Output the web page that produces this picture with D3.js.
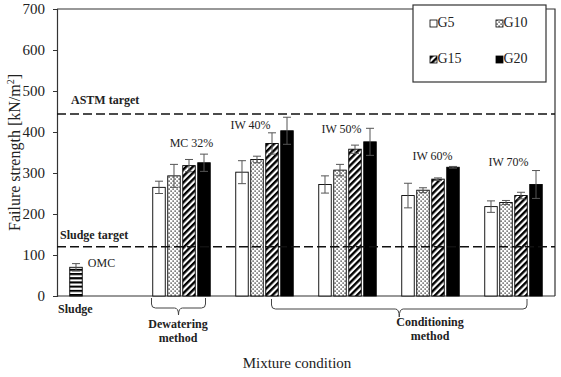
<!DOCTYPE html>
<html>
<head>
<meta charset="utf-8">
<script src="https://cdn.jsdelivr.net/npm/d3@7"></script>
<style>
  body { margin: 0; background: #fff; }
  text { font-family: "Liberation Serif", "Times New Roman", serif; fill: #222; }
</style>
</head>
<body>
<div id="chart"></div>
<script>
// categories along the x axis (first one holds only the raw sludge bar)
const categories = ['Sludge', 'MC 32%', 'IW 40%', 'IW 50%', 'IW 60%', 'IW 70%'];
const series = ['G5', 'G10', 'G15', 'G20'];

// failure strength [kN/m2]
const g5 = [70, 265, 302, 272, 245, 218];
const g10 = [null, 293, 333, 307, 258, 228];
const g15 = [null, 318, 372, 358, 285, 245];
const g20 = [null, 325, 403, 376, 314, 272];

// +/- error
const g5Err = [9, 15, 28, 21, 30, 14];
const g10Err = [null, 28, 8, 14, 6, 5];
const g15Err = [null, 15, 26, 10, 3, 8];
const g20Err = [null, 21, 33, 33, 2, 34];

const groupLabels = ['OMC', 'MC 32%', 'IW 40%', 'IW 50%', 'IW 60%', 'IW 70%'];
const yTicks = [0, 100, 200, 300, 400, 500, 600, 700];

const astmTarget = 444;
const sludgeTarget = 120;

// label placement (x offset from category centre, y in data units)
const labelDx = [3, 10, -14, -6, 2, -5];
const labelY = [71, 363, 407, 398, 332, 318];

const values = [g5, g10, g15, g20];
const errors = [g5Err, g10Err, g15Err, g20Err];

const width = 561, height = 377;
const margin = { top: 9, right: 6, bottom: 81, left: 57 };

const svg = d3.select('#chart')
  .append('svg')
  .attr('width', width)
  .attr('height', height);

// patterns
const defs = svg.append('defs');

const dots = defs.append('pattern')
  .attr('id', 'dots')
  .attr('patternUnits', 'userSpaceOnUse')
  .attr('width', 4).attr('height', 4);
dots.append('rect').attr('width', 4).attr('height', 4).attr('fill', '#fff');
dots.append('rect').attr('x', 0.5).attr('y', 0.5).attr('width', 1.2).attr('height', 1.2).attr('fill', '#000');
dots.append('rect').attr('x', 2.5).attr('y', 2.5).attr('width', 1.2).attr('height', 1.2).attr('fill', '#000');

const diag = defs.append('pattern')
  .attr('id', 'diag')
  .attr('patternUnits', 'userSpaceOnUse')
  .attr('width', 4.6).attr('height', 4.6)
  .attr('patternTransform', 'rotate(45)');
diag.append('rect').attr('width', 4.6).attr('height', 4.6).attr('fill', '#fff');
diag.append('rect').attr('width', 2.4).attr('height', 4.6).attr('fill', '#000');

const hstripe = defs.append('pattern')
  .attr('id', 'hstripe')
  .attr('patternUnits', 'userSpaceOnUse')
  .attr('width', 4).attr('height', 4.2);
hstripe.append('rect').attr('width', 4).attr('height', 4.2).attr('fill', '#fff');
hstripe.append('rect').attr('width', 4).attr('height', 2.1).attr('fill', '#000');

const fills = { G5: '#fff', G10: 'url(#dots)', G15: 'url(#diag)', G20: '#000' };

const x0 = d3.scaleBand()
  .domain(categories)
  .range([margin.left, width - margin.right])
  .padding(0);

const bw = x0.bandwidth();
const x1 = d3.scaleBand()
  .domain(series)
  .range([bw / 2 - 28.75, bw / 2 + 28.75])
  .paddingInner(0.167)
  .paddingOuter(0);

const y = d3.scaleLinear()
  .domain([0, 700])
  .range([height - margin.bottom, margin.top]);

// frame (top + right)
svg.append('path')
  .attr('d', `M${margin.left},${margin.top}H${width - margin.right}V${height - margin.bottom}`)
  .attr('fill', 'none')
  .attr('stroke', '#333')
  .attr('stroke-width', 1.2);

// y axis
const yAxis = svg.append('g')
  .attr('transform', `translate(${margin.left},0)`)
  .call(d3.axisLeft(y).tickValues(yTicks).tickSize(4).tickPadding(8));
yAxis.attr('font-family', null).attr('font-size', null);
yAxis.select('.domain').attr('stroke', '#333').attr('stroke-width', 1.2);
yAxis.selectAll('.tick line').attr('stroke', '#333');
yAxis.selectAll('.tick text')
  .style('font-family', '"Liberation Serif", "Times New Roman", serif')
  .style('font-size', '15px')
  .attr('fill', '#222');

// x axis line
svg.append('line')
  .attr('x1', margin.left).attr('x2', width - margin.right)
  .attr('y1', y(0)).attr('y2', y(0))
  .attr('stroke', '#333').attr('stroke-width', 1.2);

// bars
const rows = [];
categories.forEach((c, i) => {
  series.forEach((s, j) => {
    if (values[j][i] != null) {
      rows.push({ cat: c, ser: s, i: i, v: values[j][i], e: errors[j][i] });
    }
  });
});

svg.append('g').selectAll('rect')
  .data(rows)
  .enter()
  .append('rect')
  .attr('x', d => x0(d.cat) + x1(d.ser))
  .attr('y', d => y(d.v))
  .attr('width', x1.bandwidth())
  .attr('height', d => y(0) - y(d.v))
  .attr('fill', d => d.i === 0 ? 'url(#hstripe)' : fills[d.ser])
  .attr('stroke', '#000')
  .attr('stroke-width', 0.9);

// error bars
const eb = svg.append('g').attr('stroke', '#555').attr('stroke-width', 1);
rows.forEach(d => {
  const cx = x0(d.cat) + x1(d.ser) + x1.bandwidth() / 2;
  eb.append('line').attr('x1', cx).attr('x2', cx).attr('y1', y(d.v + d.e)).attr('y2', y(d.v - d.e));
  eb.append('line').attr('x1', cx - 4).attr('x2', cx + 4).attr('y1', y(d.v + d.e)).attr('y2', y(d.v + d.e));
  eb.append('line').attr('x1', cx - 4).attr('x2', cx + 4).attr('y1', y(d.v - d.e)).attr('y2', y(d.v - d.e));
});

// target lines
[astmTarget, sludgeTarget].forEach(t => {
  svg.append('line')
    .attr('x1', margin.left).attr('x2', width - margin.right)
    .attr('y1', y(t)).attr('y2', y(t))
    .attr('stroke', '#111')
    .attr('stroke-width', 1.4)
    .attr('stroke-dasharray', '9,4');
});

svg.append('text')
  .attr('x', 71).attr('y', y(astmTarget) - 10)
  .style('font-size', '12px').style('font-weight', 'bold')
  .text('ASTM target');

svg.append('text')
  .attr('x', 60).attr('y', y(sludgeTarget) - 8)
  .style('font-size', '12px').style('font-weight', 'bold')
  .text('Sludge target');

// group labels
svg.append('g').selectAll('text')
  .data(groupLabels)
  .enter()
  .append('text')
  .attr('x', (d, i) => x0(categories[i]) + bw / 2 + labelDx[i])
  .attr('y', (d, i) => y(labelY[i]))
  .attr('text-anchor', 'middle')
  .style('font-size', '12px')
  .text(d => d);

// braces under the x axis
function brace(xa, xb, top, mid, tip) {
  const xm = (xa + xb) / 2, r = 4;
  return `M${xa},${top} V${mid - r} Q${xa},${mid} ${xa + r},${mid} H${xm - r} Q${xm},${mid} ${xm},${tip}` +
    ` Q${xm},${mid} ${xm + r},${mid} H${xb - r} Q${xb},${mid} ${xb},${mid - r} V${top}`;
}
const braceG = svg.append('g').attr('fill', 'none').attr('stroke', '#444').attr('stroke-width', 1);
braceG.append('path').attr('d', brace(151.5, 205.5, 298, 308, 315));
braceG.append('path').attr('d', brace(271.5, 527, 299, 309, 317));

const bottomLabels = svg.append('g')
  .style('font-size', '12px')
  .style('font-weight', 'bold')
  .attr('text-anchor', 'middle');

svg.append('text')
  .attr('x', 58).attr('y', 313)
  .style('font-size', '12px').style('font-weight', 'bold')
  .text('Sludge');

bottomLabels.append('text').attr('x', 178).attr('y', 328).text('Dewatering');
bottomLabels.append('text').attr('x', 178).attr('y', 342).text('method');
bottomLabels.append('text').attr('x', 430).attr('y', 326).text('Conditioning');
bottomLabels.append('text').attr('x', 430).attr('y', 340).text('method');

// axis titles
svg.append('text')
  .attr('x', 297).attr('y', 368)
  .attr('text-anchor', 'middle')
  .style('font-size', '15px')
  .text('Mixture condition');

const yTitle = svg.append('text')
  .attr('transform', `translate(20,${(y(0) + y(700)) / 2}) rotate(-90)`)
  .attr('text-anchor', 'middle')
  .style('font-size', '16px');
yTitle.append('tspan').text('Failure strength [kN/m');
yTitle.append('tspan').attr('dy', -6).style('font-size', '10px').text('2');
yTitle.append('tspan').attr('dy', 6).text(']');

// legend
const legend = svg.append('g');
legend.append('rect')
  .attr('x', 413).attr('y', 5)
  .attr('width', 133).attr('height', 77)
  .attr('fill', '#fff')
  .attr('stroke', '#333')
  .attr('stroke-width', 1.2);

const legendPos = [[430, 27], [496, 27], [430, 63], [496, 63]];
const items = legend.selectAll('.item')
  .data(series)
  .enter()
  .append('g')
  .attr('class', 'item')
  .attr('transform', (d, i) => `translate(${legendPos[i][0]},${legendPos[i][1]})`);

items.append('rect')
  .attr('x', 0).attr('y', -7)
  .attr('width', 7).attr('height', 7)
  .attr('fill', d => fills[d])
  .attr('stroke', '#000')
  .attr('stroke-width', 0.8);

items.append('text')
  .attr('x', 7.5)
  .style('font-size', '14px')
  .text(d => d);
</script>
</body>
</html>
